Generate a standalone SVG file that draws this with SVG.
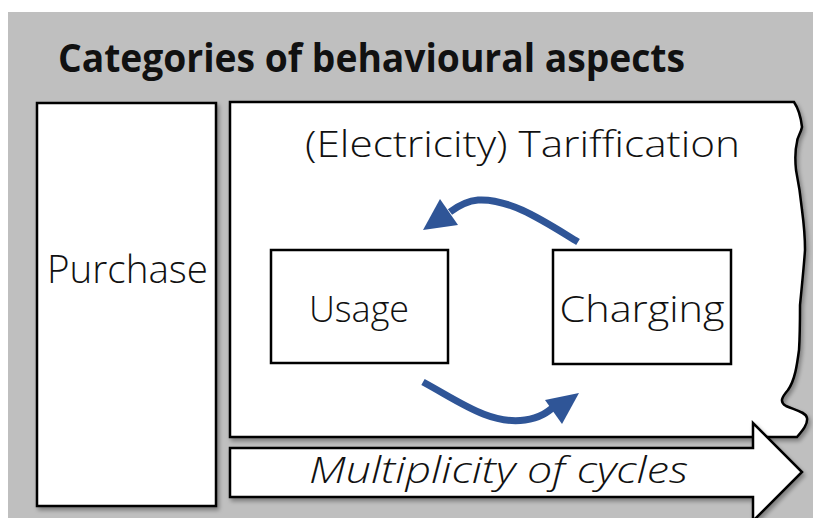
<svg xmlns="http://www.w3.org/2000/svg" width="813" height="518" viewBox="0 0 813 518">
<defs>
<filter id="sh" x="-5%" y="-5%" width="115%" height="115%">
<feGaussianBlur in="SourceAlpha" stdDeviation="2"/>
<feOffset dx="2" dy="3" result="b"/>
<feComponentTransfer><feFuncA type="linear" slope="0.35"/></feComponentTransfer>
<feMerge><feMergeNode/><feMergeNode in="SourceGraphic"/></feMerge>
</filter>
</defs>
<style>
.box{fill:#fff;stroke:#000;stroke-width:2.5}
.t{font-family:"Open Sans","Liberation Sans",sans-serif;fill:#111;font-weight:300}
.arr{fill:none;stroke:#2f5597;stroke-width:7}
.head{fill:#2f5597}
</style>
<rect x="8" y="12" width="805" height="506" fill="#bfbfbf"/>
<text class="t" x="58" y="72" font-size="40" font-weight="bold" style="font-weight:700" textLength="627" lengthAdjust="spacingAndGlyphs">Categories of behavioural aspects</text>
<g id="purchase">
<rect class="box" x="37" y="103" width="179" height="403" filter="url(#sh)"/>
<text class="t" x="47" y="283" font-size="38" textLength="161" lengthAdjust="spacingAndGlyphs">Purchase</text>
</g>
<g id="tariffication">
<path class="box" filter="url(#sh)" d="M230,102 L794,102 C798,108 801,118 802,127 C801,133 797,137 797,142 C795,150 795,160 796,170 C799,185 801,200 802,210 C804,225 805,240 805,250 C804,265 802,285 800,305 C800,320 800,335 799,350 C797,365 795,380 788,390 C782,397 779,402 786,406 C795,410 806,412 807,418 C808,424 803,430 797,437 L230,437 Z"/>
<text class="t" x="305" y="157" font-size="36" textLength="435" lengthAdjust="spacingAndGlyphs">(Electricity) Tariffication</text>
</g>
<g id="usage">
<rect class="box" x="271" y="250" width="177" height="113"/>
<text class="t" x="359" y="322" font-size="36" text-anchor="middle">Usage</text>
</g>
<g id="charging">
<rect class="box" x="553" y="250" width="178" height="114"/>
<text class="t" x="642" y="322" font-size="36" text-anchor="middle" textLength="165" lengthAdjust="spacingAndGlyphs">Charging</text>
</g>
<g id="cycles">
<path class="box" filter="url(#sh)" d="M230,448 L753,448 L753,423 L802,472 L753,521 L753,497 L230,497 Z"/>
<text class="t" x="309" y="483" font-size="36" font-style="italic" textLength="379" lengthAdjust="spacingAndGlyphs">Multiplicity of cycles</text>
</g>
<g id="connectors">
<path class="arr" d="M578,242 C545,222 510,198 478,200 C466,201 458,206 450,212"/>
<polygon class="head" points="423,230 440,199 458,225"/>
<path class="arr" d="M423,382 C460,402 490,425 525,420 C540,418 548,412 556,405"/>
<polygon class="head" points="579,393 545,400 562,424"/>
</g>
</svg>
